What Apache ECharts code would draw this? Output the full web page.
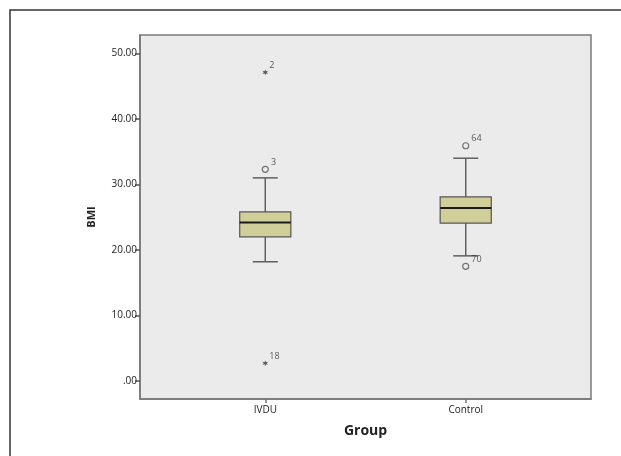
<!DOCTYPE html>
<html>
<head>
<meta charset="utf-8">
<script src="https://cdn.jsdelivr.net/npm/echarts@6/dist/echarts.min.js"></script>
<style>html,body{margin:0;padding:0;background:#fff;}#c{width:621px;height:456px;}</style>
</head>
<body>
<div id="c"></div>
<script>
const categories = ['IVDU', 'Control'];
const lowWhisker = [18.2, 19.1];
const q1 = [22.0, 24.1];
const median = [24.2, 26.4];
const q3 = [25.8, 28.1];
const highWhisker = [31.0, 34.0];
const outlierGroup = ['IVDU', 'Control', 'Control'];
const outlierValues = [32.3, 35.9, 17.5];
const outlierIds = ['3', '64', '70'];
const extremeGroup = ['IVDU', 'IVDU'];
const extremeValues = [47.1, 2.7];
const extremeIds = ['2', '18'];
const yTicks = [0, 10, 20, 30, 40, 50];

// layout: place categories in slots of a padded category axis
const slotOf = {IVDU: 2, Control: 6};
const axisData = new Array(9).fill('');
categories.forEach(c => { axisData[slotOf[c]] = c; });

const boxData = categories.map((c, i) => [slotOf[c], lowWhisker[i], q1[i], median[i], q3[i], highWhisker[i]]);
const outlierData = outlierValues.map((v, i) => ({value: [slotOf[outlierGroup[i]], v], name: outlierIds[i]}));
const extremeData = extremeValues.map((v, i) => ({value: [slotOf[extremeGroup[i]], v], name: extremeIds[i]}));

const font = '"Open Sans", "DejaVu Sans", sans-serif';
const starPath = 'path://M5,0 L6,3.3 L9.3,2.5 L7,5 L9.3,7.5 L6,6.7 L5,10 L4,6.7 L0.7,7.5 L3,5 L0.7,2.5 L4,3.3 Z';

const chart = echarts.init(document.getElementById('c'), null, {renderer: 'canvas'});
chart.setOption({
  animation: false,
  backgroundColor: '#fff',
  graphic: [{
    type: 'rect', shape: {x: 10, y: 10, width: 700, height: 600},
    style: {fill: 'none', stroke: '#333', lineWidth: 1.5}, z: -10, silent: true
  }],
  grid: {
    left: 140, top: 35, right: 30, bottom: 57,
    show: true, backgroundColor: '#ebebeb', borderColor: '#7a7a7a', borderWidth: 1.5
  },
  xAxis: {
    type: 'category', data: axisData, boundaryGap: true,
    name: 'Group', nameLocation: 'middle', nameGap: 25,
    nameTextStyle: {fontFamily: font, fontSize: 14, fontWeight: 'bold', color: '#222'},
    axisLine: {onZero: false, lineStyle: {color: '#777', width: 1.5}},
    axisTick: {show: true, alignWithLabel: true, length: 4, lineStyle: {color: '#777', width: 1.5},
      interval: (idx, val) => val !== ''},
    axisLabel: {interval: 0, margin: 6, fontFamily: font, fontSize: 10, color: '#222'},
    splitLine: {show: false}
  },
  yAxis: {
    type: 'value', min: -2.74, max: 52.8,
    name: 'BMI', nameLocation: 'middle', nameGap: 43, nameRotate: 90,
    nameTextStyle: {fontFamily: font, fontSize: 11, fontWeight: 'bold', color: '#222'},
    axisLine: {show: true, onZero: false, lineStyle: {color: '#777', width: 1.5}},
    axisTick: {show: true, length: 5, customValues: yTicks, lineStyle: {color: '#555', width: 1.5}},
    axisLabel: {customValues: yTicks, margin: 3, fontFamily: font, fontSize: 10, color: '#222',
      formatter: v => v === 0 ? '.00' : v.toFixed(2)},
    splitLine: {show: false}
  },
  series: [
    {
      type: 'custom',
      data: boxData,
      encode: {x: 0, y: [1, 2, 3, 4, 5]},
      renderItem: function (params, api) {
        const x = api.value(0);
        const bw = api.size([1, 0])[0];
        const half = bw * 0.51;
        const cap = bw * 0.25;
        const pLow = api.coord([x, api.value(1)]);
        const pQ1 = api.coord([x, api.value(2)]);
        const pMed = api.coord([x, api.value(3)]);
        const pQ3 = api.coord([x, api.value(4)]);
        const pHigh = api.coord([x, api.value(5)]);
        const cx = pLow[0];
        const wStyle = {stroke: '#5f5f5f', lineWidth: 1.5};
        return {
          type: 'group',
          children: [
            {type: 'line', shape: {x1: cx, y1: pHigh[1], x2: cx, y2: pQ3[1]}, style: wStyle},
            {type: 'line', shape: {x1: cx, y1: pQ1[1], x2: cx, y2: pLow[1]}, style: wStyle},
            {type: 'line', shape: {x1: cx - cap, y1: pHigh[1], x2: cx + cap, y2: pHigh[1]}, style: wStyle},
            {type: 'line', shape: {x1: cx - cap, y1: pLow[1], x2: cx + cap, y2: pLow[1]}, style: wStyle},
            {type: 'rect', shape: {x: cx - half, y: pQ3[1], width: half * 2, height: pQ1[1] - pQ3[1]},
              style: {fill: '#d1cf99', stroke: '#555', lineWidth: 1.2}},
            {type: 'line', shape: {x1: cx - half, y1: pMed[1], x2: cx + half, y2: pMed[1]},
              style: {stroke: '#1a1a1a', lineWidth: 2}}
          ]
        };
      }
    },
    {
      type: 'scatter',
      data: outlierData,
      symbol: 'circle', symbolSize: 6,
      itemStyle: {color: '#ebebeb', borderColor: '#555', borderWidth: 1.2},
      label: {show: true, formatter: p => p.name, position: 'right', distance: 2, offset: [0, -7],
        fontFamily: font, fontSize: 9, color: '#333'}
    },
    {
      type: 'scatter',
      data: extremeData,
      symbol: starPath, symbolSize: 6,
      itemStyle: {color: '#333'},
      label: {show: true, formatter: p => p.name, position: 'right', distance: 1, offset: [0, -7],
        fontFamily: font, fontSize: 9, color: '#333'}
    }
  ]
});
</script>
</body>
</html>
